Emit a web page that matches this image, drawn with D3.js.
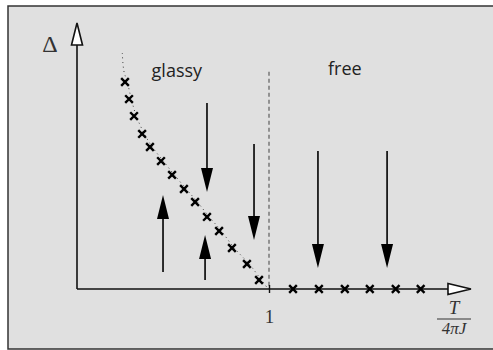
<!DOCTYPE html>
<html>
<head>
<meta charset="utf-8">
<script src="https://cdn.jsdelivr.net/npm/d3@7"></script>
<style>
  body { margin: 0; background: #fff; }
</style>
</head>
<body>
<script>
// temperature T/4piJ of the points, gap Delta (arbitrary units, 1 = top of axis)
const glassyT = [0.25, 0.271, 0.297, 0.339, 0.38, 0.4375, 0.495, 0.557, 0.615, 0.677, 0.74, 0.807, 0.885, 0.948];
const glassyDelta = [0.778, 0.714, 0.65, 0.583, 0.534, 0.481, 0.429, 0.376, 0.327, 0.271, 0.218, 0.154, 0.094, 0.034];
const freeT = [1.125, 1.26, 1.395, 1.525, 1.66, 1.79];
const freeDelta = [0, 0, 0, 0, 0, 0];

// dotted guide curve
const curveT = [0.224, 0.232, 0.25, 0.271, 0.297, 0.339, 0.38, 0.4375, 0.495, 0.557, 0.615, 0.677, 0.74, 0.807, 0.885, 0.948, 0.984];
const curveDelta = [0.887, 0.82, 0.778, 0.714, 0.65, 0.583, 0.534, 0.481, 0.429, 0.376, 0.327, 0.271, 0.218, 0.154, 0.094, 0.034, 0];

// flow arrows
const arrowT = [0.677, 0.922, 1.255, 1.615, 0.448, 0.667];
const arrowFrom = [0.699, 0.545, 0.519, 0.519, 0.064, 0.034];
const arrowTo = [0.365, 0.184, 0.079, 0.079, 0.353, 0.203];

const tickValues = [1];
const regionLabels = ["glassy", "free"];
const regionT = [0.52, 1.395];

const w = 493;
const h = 350;

const svg = d3.select("body").append("svg").attr("width", w).attr("height", h);

svg.append("rect")
  .attr("x", 8).attr("y", 6)
  .attr("width", 500).attr("height", 343)
  .attr("fill", "#e0e0e0")
  .attr("stroke", "#333")
  .attr("stroke-width", 1.5);

const x = d3.scaleLinear().domain([0, 1]).range([77, 269]);
const y = d3.scaleLinear().domain([0, 1]).range([289, 23]);
const xMax = 2.052;

// critical temperature, dashed
svg.append("line")
  .attr("x1", x(1)).attr("x2", x(1))
  .attr("y1", y(0.817)).attr("y2", y(0))
  .attr("stroke", "#777")
  .attr("stroke-width", 1.5)
  .attr("stroke-dasharray", "4,3");

// axes lines
svg.append("line")
  .attr("x1", x(0)).attr("x2", x(xMax) - 20)
  .attr("y1", y(0)).attr("y2", y(0))
  .attr("stroke", "#111").attr("stroke-width", 1.6);
svg.append("line")
  .attr("x1", x(0)).attr("x2", x(0))
  .attr("y1", y(0)).attr("y2", y(1) + 20)
  .attr("stroke", "#111").attr("stroke-width", 1.6);

// open arrow heads on axes
const hx = x(xMax), hy = y(0);
svg.append("path")
  .attr("d", `M${hx},${hy} L${hx - 23},${hy - 5.5} L${hx - 23},${hy + 5.5} Z`)
  .attr("fill", "#fff").attr("stroke", "#111").attr("stroke-width", 1.6)
  .attr("stroke-linejoin", "miter");
const vx = x(0), vy = y(1);
svg.append("path")
  .attr("d", `M${vx},${vy} L${vx - 5.5},${vy + 22} L${vx + 5.5},${vy + 22} Z`)
  .attr("fill", "#fff").attr("stroke", "#111").attr("stroke-width", 1.6);

// tick at 1
const xAxis = d3.axisBottom(x).tickValues(tickValues).tickFormat(d3.format("d")).tickSize(4);
const gx = svg.append("g").attr("transform", `translate(0, ${y(0)})`).call(xAxis);
gx.select(".domain").remove();
gx.selectAll(".tick line").attr("y1", -4).attr("y2", 4).attr("stroke", "#111").attr("stroke-width", 1.4);
gx.selectAll(".tick text")
  .attr("y", 34).attr("dy", 0)
  .attr("font-family", "Liberation Serif, serif")
  .attr("font-size", 19)
  .attr("fill", "#333");

// axis labels
svg.append("text")
  .attr("x", 50).attr("y", 52)
  .attr("text-anchor", "middle")
  .attr("font-family", "Liberation Serif, serif")
  .attr("font-size", 24)
  .attr("fill", "#333")
  .text("\u0394");

const frac = svg.append("g").attr("font-family", "Liberation Serif, serif").attr("font-style", "italic").attr("fill", "#333");
frac.append("text").attr("x", 454).attr("y", 314).attr("text-anchor", "middle").attr("font-size", 19).text("T");
frac.append("line").attr("x1", 437).attr("x2", 471).attr("y1", 319).attr("y2", 319)
  .attr("stroke", "#333").attr("stroke-width", 1);
frac.append("text").attr("x", 454).attr("y", 333.5).attr("text-anchor", "middle").attr("font-size", 17).text("4\u03c0J");

// region labels
svg.selectAll(".region")
  .data(regionLabels)
  .enter()
  .append("text")
  .attr("class", "region")
  .attr("x", (d, i) => x(regionT[i]))
  .attr("y", (d, i) => i === 0 ? 77 : 75)
  .attr("text-anchor", "middle")
  .attr("font-family", "Open Sans, sans-serif")
  .attr("font-size", 18)
  .attr("fill", "#222")
  .text((d) => d);

// dotted curve
const line = d3.line().x((d) => x(d[0])).y((d) => y(d[1])).curve(d3.curveCatmullRom);
svg.append("path")
  .attr("d", line(curveT.map((t, i) => [t + 0.012, curveDelta[i]])))
  .attr("fill", "none")
  .attr("stroke", "#444")
  .attr("stroke-width", 1)
  .attr("stroke-dasharray", "1,3.5");

// flow arrows
arrowT.forEach((t, i) => {
  const ax = x(t);
  const y0 = y(arrowFrom[i]);
  const y1 = y(arrowTo[i]);
  const dir = y1 > y0 ? 1 : -1;
  const headLen = 24;
  svg.append("line")
    .attr("x1", ax).attr("x2", ax)
    .attr("y1", y0).attr("y2", y1 - dir * headLen)
    .attr("stroke", "#000").attr("stroke-width", 1.6);
  svg.append("path")
    .attr("d", `M${ax},${y1} L${ax - 6},${y1 - dir * headLen} L${ax + 6},${y1 - dir * headLen} Z`)
    .attr("fill", "#000");
});

// crosses
const sym = d3.symbol().type(d3.symbolX).size(40);
const pts = glassyT.map((t, i) => [t, glassyDelta[i]])
  .concat(freeT.map((t, i) => [t, freeDelta[i]]));
svg.selectAll(".pt")
  .data(pts)
  .enter()
  .append("path")
  .attr("class", "pt")
  .attr("transform", (d) => `translate(${x(d[0])}, ${y(d[1])})`)
  .attr("d", sym)
  .attr("fill", "none")
  .attr("stroke", "#000")
  .attr("stroke-width", 2.4);
</script>
</body>
</html>
